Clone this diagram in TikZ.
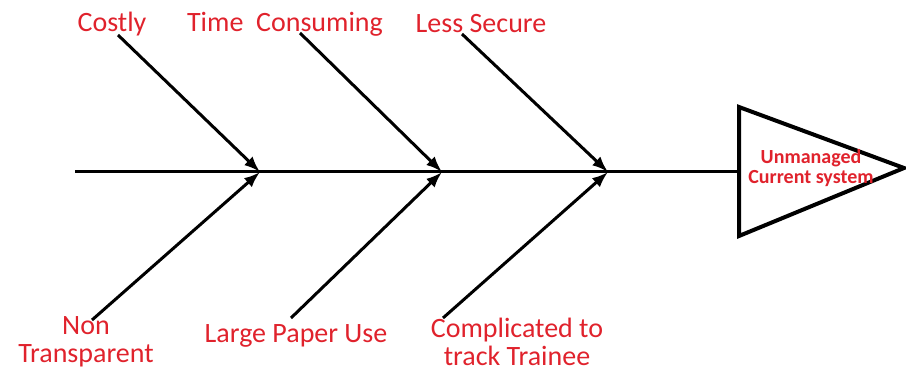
\documentclass[tikz,border=0pt]{standalone}
\usepackage{fontspec}
\setmainfont{Carlito}
\usetikzlibrary{arrows.meta}
\definecolor{causered}{RGB}{224,34,44}
\tikzset{
    bonearrow/.style={-{Latex[length=8pt,width=6pt]}, line width=1.5pt},
    cause/.style={text=causered, font=\fontsize{14}{14}\selectfont, align=center, inner sep=1pt},
}

\begin{document}
\begin{tikzpicture}[x=0.5pt,y=-0.5pt]
    \useasboundingbox (0,0) rectangle (906,369);

    \node[cause] (costly) at (112,24) {Costly};
    \node[cause] (time) at (285,24) {Time\ \ Consuming};
    \node[cause] (secure) at (481,24) {Less\ Secure};
    \node[cause] (transp) at (86,342) {Non\\Transparent};
    \node[cause] (paper) at (296,336) {Large Paper Use};
    \node[cause] (track) at (517,342) {Complicated to\\track Trainee};

    \coordinate (j1) at (260,172);
    \coordinate (j2) at (442,172);
    \coordinate (j3) at (608,172);
    \coordinate (tail) at (75,172);

    \coordinate (b1) at (118,35);
    \coordinate (b2) at (300,33);
    \coordinate (b3) at (462,34);
    \coordinate (b4) at (92,320);
    \coordinate (b5) at (291,318);
    \coordinate (b6) at (443,318);

    \coordinate (h1) at (739,107);
    \coordinate (h2) at (739,236);
    \coordinate (h3) at (904,168);

    \path [line width=1.5pt](tail) edge (h1 |- tail);
    \path [bonearrow](b1) edge (j1);
    \path [bonearrow](b2) edge (j2);
    \path [bonearrow](b3) edge (j3);
    \path [bonearrow](b4) edge (j1);
    \path [bonearrow](b5) edge (j2);
    \path [bonearrow](b6) edge (j3);

    \draw [line width=2pt, line join=miter] (h1) -- (h3) -- (h2) -- cycle;
    \node[text=causered, font=\fontsize{10}{10}\bfseries, align=center] (effect) at (811,168)
        {Unmanaged\\Current system};
\end{tikzpicture}
\end{document}
